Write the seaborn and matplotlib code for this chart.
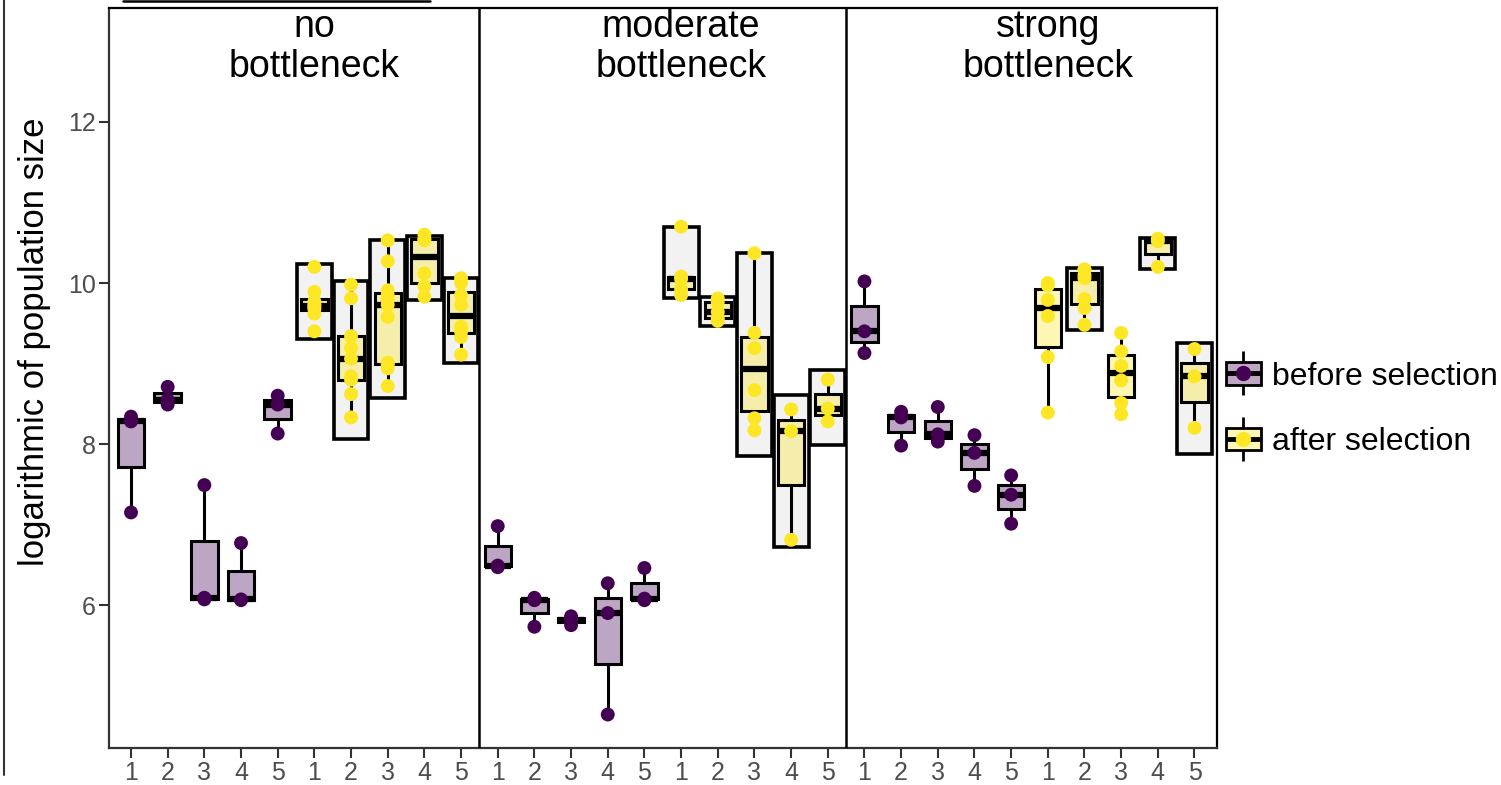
import numpy as np
import pandas as pd
import seaborn as sns
import matplotlib.pyplot as plt
from matplotlib.colors import to_rgba
from matplotlib.lines import Line2D
from matplotlib.patches import Patch
from matplotlib.legend_handler import HandlerTuple

# bottleneck treatments and selection stages
conditions = ["no", "moderate", "strong"]
stages = ["before selection", "after selection"]
lines = [1, 2, 3, 4, 5]

# log population size per line
before_no = [[7.15, 8.28, 8.34], [8.49, 8.55, 8.71], [6.07, 6.09, 7.49],
             [6.06, 6.07, 6.77], [8.13, 8.49, 8.60]]
after_no = [[9.40, 9.62, 9.68, 9.71, 9.73, 9.77, 9.89, 10.20],
            [8.33, 8.62, 8.80, 8.84, 9.06, 9.19, 9.34, 9.81, 9.98],
            [8.72, 8.94, 8.99, 9.01, 9.58, 9.73, 9.79, 9.85, 9.91, 10.27, 10.53],
            [9.83, 9.96, 10.12, 10.53, 10.55, 10.60],
            [9.11, 9.33, 9.40, 9.46, 9.73, 9.85, 10.00, 10.06]]
before_mod = [[6.47, 6.49, 6.98], [5.73, 6.06, 6.09], [5.75, 5.82, 5.86],
              [4.64, 5.90, 6.27], [6.06, 6.08, 6.46]]
after_mod = [[9.85, 9.92, 10.05, 10.08, 10.70], [9.53, 9.56, 9.64, 9.76, 9.81],
             [8.17, 8.32, 8.67, 9.19, 9.38, 10.37], [6.81, 8.16, 8.43],
             [8.28, 8.44, 8.80]]
before_str = [[9.13, 9.40, 10.02], [7.98, 8.33, 8.40], [8.03, 8.12, 8.46],
              [7.48, 7.89, 8.11], [7.01, 7.37, 7.61]]
after_str = [[8.39, 9.08, 9.59, 9.79, 9.97, 10.00],
             [9.48, 9.69, 9.80, 10.06, 10.10, 10.16, 10.17],
             [8.37, 8.51, 8.79, 8.97, 9.15, 9.38], [10.20, 10.52, 10.55],
             [8.20, 8.84, 9.18]]

# grey range boxes behind the after-selection groups (low, high)
range_no = [(9.31, 10.23), (8.06, 10.02), (8.57, 10.54), (9.79, 10.58), (9.01, 10.06)]
range_mod = [(9.81, 10.70), (9.46, 9.83), (7.85, 10.37), (6.72, 8.61), (7.99, 8.92)]
range_str = [None, (9.42, 10.19), None, (10.17, 10.56), (7.88, 9.25)]

data = {
    "no": (before_no, after_no, range_no),
    "moderate": (before_mod, after_mod, range_mod),
    "strong": (before_str, after_str, range_str),
}

rows = []
order = []
rng_pos, rng_lo, rng_hi = [], [], []
for cond in conditions:
    bef, aft, rng = data[cond]
    for stage, groups in zip(stages, [bef, aft]):
        for k, vals in zip(lines, groups):
            slot = f"{cond}|{stage}|{k}"
            order.append(slot)
            for v in vals:
                rows.append({"slot": slot, "stage": stage, "value": v})
    for k, r in zip(lines, rng):
        if r is not None:
            rng_pos.append(order.index(f"{cond}|after selection|{k}"))
            rng_lo.append(r[0])
            rng_hi.append(r[1])
df = pd.DataFrame(rows)

purple = "#440154"
yellow = "#FDE725"
pal = {"before selection": purple, "after selection": yellow}

sns.set_style("white")
plt.rcParams["font.family"] = ["Liberation Sans", "DejaVu Sans"]

fig = plt.figure(figsize=(15.01, 7.85), dpi=100)
ax = fig.add_axes([109 / 1501, 1 - 748 / 785, (1216.5 - 109) / 1501, 740 / 785])

sns.boxplot(data=df, x="slot", y="value", hue="stage", order=order, palette=pal,
            dodge=False, width=0.72, saturation=1, linecolor="black", linewidth=2.2,
            showfliers=False, showcaps=False, legend=False,
            medianprops=dict(color="black", linewidth=4.5), ax=ax)
for p in ax.patches:
    fc = p.get_facecolor()
    p.set_facecolor((fc[0], fc[1], fc[2], 0.35))

ax.bar(rng_pos, np.array(rng_hi) - np.array(rng_lo), bottom=rng_lo, width=0.95,
       color="#F2F2F2", edgecolor="black", linewidth=2.6, zorder=0.5)

sns.stripplot(data=df, x="slot", y="value", hue="stage", order=order, palette=pal,
              jitter=False, dodge=False, size=10, linewidth=0, legend=False,
              zorder=4, ax=ax)

ax.axvline(9.5, color="black", lw=1.8, zorder=5)
ax.axvline(19.5, color="black", lw=1.8, zorder=5)

for i, cond in enumerate(conditions):
    ax.text(i * 10 + 5, 12.93, f"{cond}\nbottleneck", ha="center", va="center",
            fontsize=27, linespacing=1.12, color="black")

ax.set_xlim(-0.6, 29.6)
ax.set_ylim(4.224, 13.416)
ax.set_yticks([6, 8, 10, 12])
ax.set_xticks(range(len(order)))
ax.set_xticklabels([str(k) for k in lines] * 6)
ax.set_xlabel("")
ax.set_ylabel("logarithmic of population size", fontsize=25, color="black")
ax.yaxis.set_label_coords(-0.052, 0.549)
ax.tick_params(axis="both", length=7, width=1.5, color="#333333",
               labelcolor="#4D4D4D", labelsize=18, pad=2.5)
ax.tick_params(axis="both", bottom=True, left=True)
for s in ["left", "bottom"]:
    ax.spines[s].set_color("#333333")
    ax.spines[s].set_linewidth(1.6)
for s in ["top", "right"]:
    ax.spines[s].set_color("black")
    ax.spines[s].set_linewidth(1.6)

# legend keys: whisker, box, median, point drawn on top of each other
handles = []
for stage in stages:
    col = pal[stage]
    blend = tuple(np.array(to_rgba(col)[:3]) * 0.35 + 0.65)
    handles.append((
        Line2D([], [], marker="|", ms=31, mew=2, color="black", ls=""),
        Patch(facecolor=blend, edgecolor="black", linewidth=2),
        Line2D([], [], marker="_", ms=24, mew=3.5, color="black", ls=""),
        Line2D([], [], marker="o", ms=10, color=col, ls=""),
    ))
fig.legend(handles, stages, handler_map={tuple: HandlerTuple(ndivide=1, pad=0)},
           loc="center left", bbox_to_anchor=(1197 / 1501, 1 - 409.5 / 785),
           frameon=False, fontsize=23, handlelength=1.1, handleheight=0.7,
           handletextpad=0.35, labelspacing=1.12, labelcolor="black")

# cropped neighbouring elements at the edges of the image
fig.add_artist(Line2D([4 / 1501, 4 / 1501], [1, 1 - 775 / 785], color="#333333", lw=1.5))
fig.add_artist(Line2D([123 / 1501, 430 / 1501], [1 - 1 / 785, 1 - 1 / 785], color="black", lw=1.8))

fig.savefig("out.png", dpi=100)
